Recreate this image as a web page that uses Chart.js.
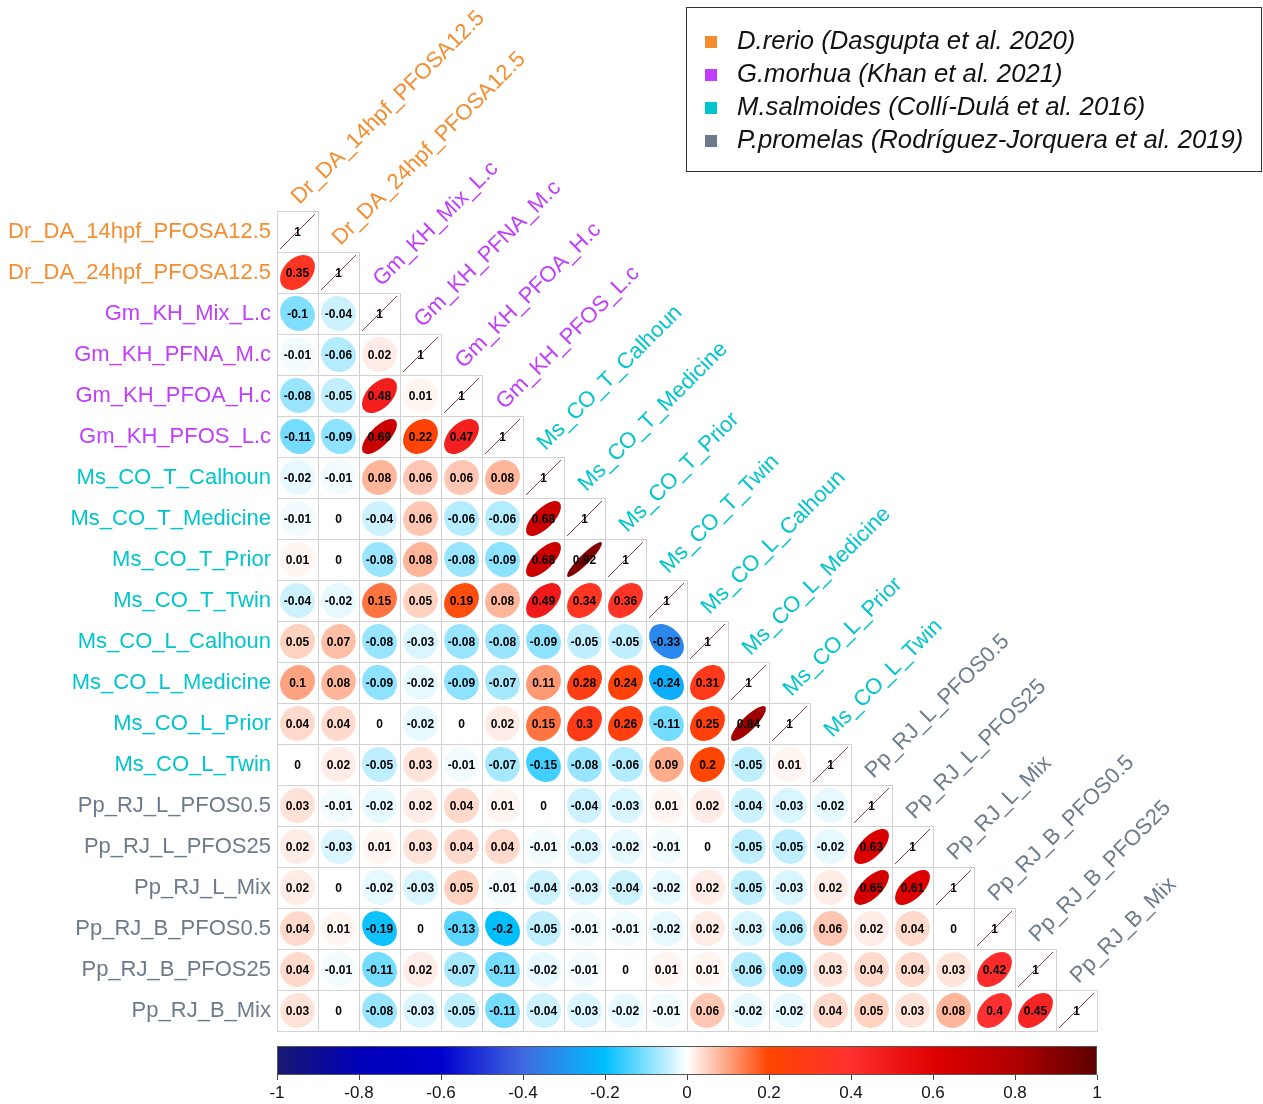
<!DOCTYPE html>
<html>
<head>
<meta charset="utf-8">
<script src="https://cdn.jsdelivr.net/npm/chart.js@4.4.1/dist/chart.umd.min.js"></script>
<style>
  body { margin: 0; background: #fff; }
  #wrap { position: relative; width: 1263px; height: 1104px; }
  #corrChart { position: absolute; left: 0; top: 0; }
  #barChart { position: absolute; left: 0; top: 1040px; }
  #legendBox {
    position: absolute; left: 686px; top: 7px; width: 576px; height: 165px;
    border: 1px solid #333; padding: 16px 0 0 18px; box-sizing: border-box;
    font-family: 'Liberation Sans', Arial, sans-serif; font-style: italic; font-size: 25.7px; color: #111;
  }
  .lg-item { height: 33px; line-height: 33px; white-space: nowrap; }
  .lg-sq { display: inline-block; width: 12px; height: 12px; margin-right: 20px; vertical-align: 1px; }
</style>
</head>
<body>
<div id="wrap">
  <canvas id="corrChart" width="1263" height="1104"></canvas>
  <canvas id="barChart" width="1263" height="64"></canvas>
  <div id="legendBox"></div>
</div>
<script>
// Variables (rows / columns of the matrix)
const varNames = [
    'Dr_DA_14hpf_PFOSA12.5', 'Dr_DA_24hpf_PFOSA12.5',
    'Gm_KH_Mix_L.c', 'Gm_KH_PFNA_M.c', 'Gm_KH_PFOA_H.c', 'Gm_KH_PFOS_L.c',
    'Ms_CO_T_Calhoun', 'Ms_CO_T_Medicine', 'Ms_CO_T_Prior', 'Ms_CO_T_Twin',
    'Ms_CO_L_Calhoun', 'Ms_CO_L_Medicine', 'Ms_CO_L_Prior', 'Ms_CO_L_Twin',
    'Pp_RJ_L_PFOS0.5', 'Pp_RJ_L_PFOS25', 'Pp_RJ_L_Mix',
    'Pp_RJ_B_PFOS0.5', 'Pp_RJ_B_PFOS25', 'Pp_RJ_B_Mix'
];
const varGroups = [0, 0, 1, 1, 1, 1, 2, 2, 2, 2, 2, 2, 2, 2, 3, 3, 3, 3, 3, 3];

const groupLabels = [
    'D.rerio (Dasgupta et al. 2020)',
    'G.morhua (Khan et al. 2021)',
    'M.salmoides (Collí-Dulá et al. 2016)',
    'P.promelas (Rodríguez-Jorquera et al. 2019)'
];
const groupColors = ['#F58D30', '#BF3EFF', '#00C5CD', '#6C7B8B'];

// Lower triangle of the correlation matrix (row i holds columns 0..i-1)
const corrRows = [
    [],
    [0.35],
    [-0.1, -0.04],
    [-0.01, -0.06, 0.02],
    [-0.08, -0.05, 0.48, 0.01],
    [-0.11, -0.09, 0.69, 0.22, 0.47],
    [-0.02, -0.01, 0.08, 0.06, 0.06, 0.08],
    [-0.01, 0, -0.04, 0.06, -0.06, -0.06, 0.68],
    [0.01, 0, -0.08, 0.08, -0.08, -0.09, 0.68, 0.92],
    [-0.04, -0.02, 0.15, 0.05, 0.19, 0.08, 0.49, 0.34, 0.36],
    [0.05, 0.07, -0.08, -0.03, -0.08, -0.08, -0.09, -0.05, -0.05, -0.33],
    [0.1, 0.08, -0.09, -0.02, -0.09, -0.07, 0.11, 0.28, 0.24, -0.24, 0.31],
    [0.04, 0.04, 0, -0.02, 0, 0.02, 0.15, 0.3, 0.26, -0.11, 0.25, 0.84],
    [0, 0.02, -0.05, 0.03, -0.01, -0.07, -0.15, -0.08, -0.06, 0.09, 0.2, -0.05, 0.01],
    [0.03, -0.01, -0.02, 0.02, 0.04, 0.01, 0, -0.04, -0.03, 0.01, 0.02, -0.04, -0.03, -0.02],
    [0.02, -0.03, 0.01, 0.03, 0.04, 0.04, -0.01, -0.03, -0.02, -0.01, 0, -0.05, -0.05, -0.02, 0.63],
    [0.02, 0, -0.02, -0.03, 0.05, -0.01, -0.04, -0.03, -0.04, -0.02, 0.02, -0.05, -0.03, 0.02, 0.65, 0.61],
    [0.04, 0.01, -0.19, 0, -0.13, -0.2, -0.05, -0.01, -0.01, -0.02, 0.02, -0.03, -0.06, 0.06, 0.02, 0.04, 0],
    [0.04, -0.01, -0.11, 0.02, -0.07, -0.11, -0.02, -0.01, 0, 0.01, 0.01, -0.06, -0.09, 0.03, 0.04, 0.04, 0.03, 0.42],
    [0.03, 0, -0.08, -0.03, -0.05, -0.11, -0.04, -0.03, -0.02, -0.01, 0.06, -0.02, -0.02, 0.04, 0.05, 0.03, 0.08, 0.4, 0.45]
];

// Colour scale stops
const colorStopValues = [-1, -0.8, -0.6, -0.4, -0.2, 0, 0.2, 0.4, 0.6, 0.8, 1];
const colorStopHex = ['#191970', '#0000B8', '#0000CD', '#4169E1', '#00BFFF', '#FFFFFF',
                      '#FF4500', '#FF3030', '#E00000', '#B00000', '#5C0000'];

const FONT = "'Liberation Sans', Arial, Helvetica, sans-serif";

function hexToRgb(h) {
    return [parseInt(h.slice(1, 3), 16), parseInt(h.slice(3, 5), 16), parseInt(h.slice(5, 7), 16)];
}

function corrColor(v) {
    for (let k = 0; k < colorStopValues.length - 1; k++) {
        const a = colorStopValues[k], b = colorStopValues[k + 1];
        if (v >= a && v <= b) {
            const t = (v - a) / (b - a);
            const c1 = hexToRgb(colorStopHex[k]), c2 = hexToRgb(colorStopHex[k + 1]);
            const c = c1.map((x, n) => Math.round(x + (c2[n] - x) * t));
            return `rgb(${c[0]},${c[1]},${c[2]})`;
        }
    }
    return colorStopHex[colorStopHex.length - 1];
}

// Build points: lower triangle + diagonal
const points = [];
corrRows.forEach((row, i) => {
    row.forEach((v, j) => points.push({ x: j, y: i, v: v }));
    points.push({ x: i, y: i, v: 1 });
});

// Draws grid cells, ellipses, numbers and the rotated column labels
const corrPlugin = {
    id: 'corrCells',
    afterDatasetsDraw(chart) {
        const ctx = chart.ctx;
        const xs = chart.scales.x, ys = chart.scales.y;
        const cell = xs.getPixelForValue(1) - xs.getPixelForValue(0);
        const meta = chart.getDatasetMeta(0);
        const data = chart.data.datasets[0].data;

        ctx.save();
        // grid
        ctx.strokeStyle = '#d2d2d2';
        ctx.lineWidth = 1;
        meta.data.forEach(el => {
            ctx.strokeRect(Math.round(el.x - cell / 2) + 0.5, Math.round(el.y - cell / 2) + 0.5, cell, cell);
        });

        // ellipses
        meta.data.forEach((el, k) => {
            const v = data[k].v;
            const a = 0.425 * cell * Math.sqrt(1 + v);
            const b = 0.425 * cell * Math.sqrt(Math.max(0, 1 - v));
            ctx.beginPath();
            ctx.ellipse(el.x, el.y, a, b, -Math.PI / 4, 0, Math.PI * 2);
            if (v >= 0.999) {
                ctx.strokeStyle = '#8a4040';
                ctx.lineWidth = 1;
                ctx.stroke();
            } else {
                ctx.fillStyle = corrColor(v);
                ctx.fill();
            }
        });

        // numbers
        ctx.fillStyle = '#000';
        ctx.font = `bold 12px ${FONT}`;
        ctx.textAlign = 'center';
        ctx.textBaseline = 'middle';
        meta.data.forEach((el, k) => {
            ctx.fillText(String(data[k].v), el.x, el.y + 1);
        });

        // column labels, rotated 45 degrees above the diagonal
        ctx.font = `22px ${FONT}`;
        ctx.textAlign = 'left';
        ctx.textBaseline = 'alphabetic';
        varNames.forEach((name, j) => {
            const px = xs.getPixelForValue(j);
            const py = ys.getPixelForValue(j - 0.5);
            ctx.save();
            ctx.translate(px + 2, py - 6);
            ctx.rotate(-Math.PI / 4);
            ctx.fillStyle = groupColors[varGroups[j]];
            ctx.fillText(name, 0, 0);
            ctx.restore();
        });
        ctx.restore();
    }
};

new Chart(document.getElementById('corrChart'), {
    type: 'scatter',
    data: {
        datasets: [{
            data: points,
            pointRadius: 0,
            pointHoverRadius: 0
        }]
    },
    options: {
        responsive: false,
        animation: false,
        events: [],
        layout: { padding: { left: 0, top: 211, right: 166, bottom: 73 } },
        plugins: { legend: { display: false }, tooltip: { enabled: false } },
        scales: {
            x: { type: 'linear', min: -0.5, max: 19.5, display: false },
            y: {
                type: 'linear',
                min: -0.5,
                max: 19.5,
                reverse: true,
                position: 'left',
                grid: { display: false, drawTicks: false },
                border: { display: false },
                afterBuildTicks: axis => { axis.ticks = varNames.map((_, i) => ({ value: i })); },
                afterFit: axis => { axis.width = 277; },
                ticks: {
                    autoSkip: false,
                    padding: 6,
                    font: { family: FONT, size: 22 },
                    color: c => groupColors[varGroups[c.tick.value]],
                    callback: value => varNames[value]
                }
            }
        }
    },
    plugins: [corrPlugin]
});

// Colour bar with its own linear axis
const colorBarPlugin = {
    id: 'colorBar',
    beforeDatasetsDraw(chart) {
        const { ctx, chartArea } = chart;
        const xs = chart.scales.x;
        const grad = ctx.createLinearGradient(chartArea.left, 0, chartArea.right, 0);
        colorStopValues.forEach((v, k) => {
            grad.addColorStop((xs.getPixelForValue(v) - chartArea.left) / (chartArea.right - chartArea.left), colorStopHex[k]);
        });
        ctx.save();
        ctx.fillStyle = grad;
        ctx.fillRect(chartArea.left, chartArea.top, chartArea.right - chartArea.left, chartArea.bottom - chartArea.top);
        ctx.strokeStyle = '#555';
        ctx.lineWidth = 1;
        ctx.strokeRect(chartArea.left + 0.5, chartArea.top + 0.5, chartArea.right - chartArea.left - 1, chartArea.bottom - chartArea.top - 1);
        ctx.restore();
    }
};

new Chart(document.getElementById('barChart'), {
    type: 'scatter',
    data: { datasets: [{ data: [] }] },
    options: {
        responsive: false,
        animation: false,
        events: [],
        layout: { padding: { left: 277, top: 6, right: 166, bottom: 0 } },
        plugins: { legend: { display: false }, tooltip: { enabled: false } },
        scales: {
            x: {
                type: 'linear',
                min: -1,
                max: 1,
                grid: { drawOnChartArea: false, tickLength: 5, color: '#444' },
                border: { display: false },
                ticks: {
                    stepSize: 0.2,
                    padding: 3,
                    color: '#111',
                    font: { family: "'Liberation Sans Narrow', 'Liberation Sans', Arial, sans-serif", size: 17 },
                    callback: v => String(Math.round(v * 10) / 10)
                }
            },
            y: { display: false, min: 0, max: 1 }
        }
    },
    plugins: [colorBarPlugin]
});

// Legend
const legendBox = document.getElementById('legendBox');
groupLabels.forEach((label, g) => {
    const item = document.createElement('div');
    item.className = 'lg-item';
    const sq = document.createElement('span');
    sq.className = 'lg-sq';
    sq.style.background = groupColors[g];
    item.appendChild(sq);
    item.appendChild(document.createTextNode(label));
    legendBox.appendChild(item);
});
</script>
</body>
</html>
